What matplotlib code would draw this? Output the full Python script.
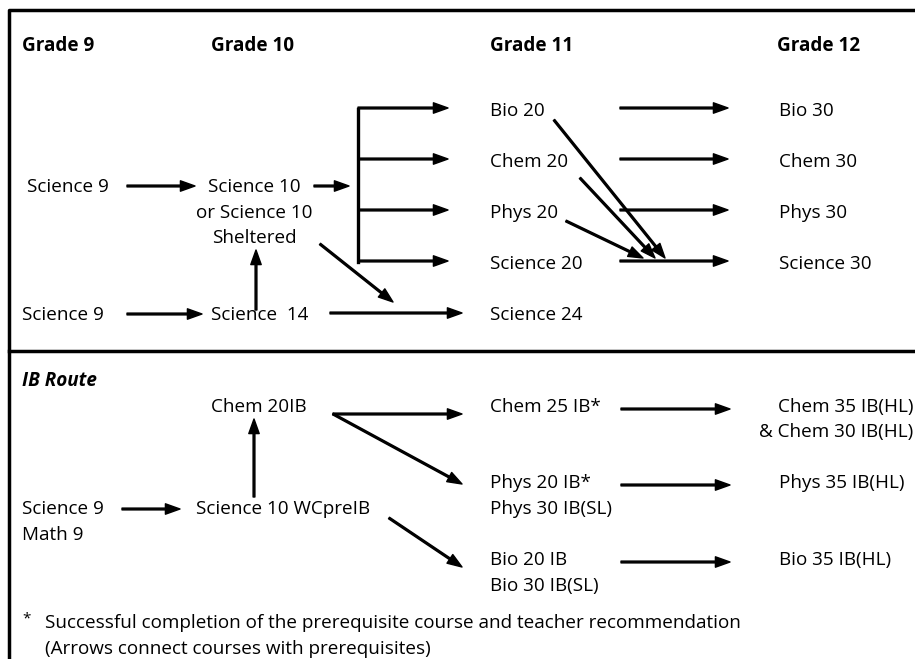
import matplotlib.pyplot as plt

plt.rcParams['font.family'] = ['Open Sans', 'DejaVu Sans']

# 見出し
grades = ['Grade 9', 'Grade 10', 'Grade 11', 'Grade 12']
grade_x = [22, 211, 490, 777]

# 通常ルート
grade11 = ['Bio 20', 'Chem 20', 'Phys 20', 'Science 20', 'Science 24']
grade12 = ['Bio 30', 'Chem 30', 'Phys 30', 'Science 30']
row_y = [110, 161, 212, 263, 314]

# IBルート
ib11 = [['Chem 25 IB*'], ['Phys 20 IB*', 'Phys 30 IB(SL)'], ['Bio 20 IB', 'Bio 30 IB(SL)']]
ib12 = [['Chem 35 IB(HL)', '& Chem 30 IB(HL)'], ['Phys 35 IB(HL)'], ['Bio 35 IB(HL)']]
ib_y = [406, 482, 559]

note = ['Successful completion of the prerequisite course and teacher recommendation',
        '(Arrows connect courses with prerequisites)']

fig = plt.figure(figsize=(9.15, 6.59), dpi=100)
ax = fig.add_axes([0, 0, 1, 1])
ax.set_xlim(0, 915)
ax.set_ylim(659, 0)
ax.axis('off')

FS = 13.6
LINE = 25.5


def txt(x, y, s, **kw):
    kw.setdefault('fontsize', FS)
    kw.setdefault('va', 'center')
    ax.text(x, y + 1, s, **kw)


def lines(x, y, items, **kw):
    for i, s in enumerate(items):
        txt(x, y + i * LINE, s, **kw)


def arrow(x0, y0, x1, y1):
    ax.annotate('', xy=(x1, y1), xytext=(x0, y0),
                arrowprops=dict(width=1.3, headwidth=7.5, headlength=10.5,
                                shrink=0, color='black'))


# 枠線
ax.plot([9, 9, 920], [665, 10, 10], color='black', lw=2.5, solid_capstyle='butt')
ax.plot([9, 920], [351, 351], color='black', lw=2.5)

for g, x in zip(grades, grade_x):
    txt(x, 45, g, fontweight='bold')

# Grade 9 / 10
txt(27, 186, 'Science 9')
lines(254, 186, ['Science 10', 'or Science 10', 'Sheltered'], ha='center')
txt(22, 314, 'Science 9')
txt(211, 314, 'Science  14')
arrow(127, 186, 195, 186)
arrow(314, 186, 349, 186)
arrow(127, 314, 202, 314)
arrow(256, 310, 256, 250)
arrow(320, 244, 393, 302)
arrow(330, 313, 462, 313)

# ブラケット
ax.plot([358, 358], [109, 262], color='black', lw=2.4)
for y in row_y[:4]:
    arrow(358, y - 2, 448, y - 2)

for s, y in zip(grade11, row_y):
    txt(490, y, s)
for s, y in zip(grade12, row_y):
    txt(779, y, s)
for y in row_y[:4]:
    arrow(620, y - 2, 728, y - 2)

# Science 30 への斜め矢印
arrow(554, 120, 665, 258)
arrow(580, 178, 655, 258)
arrow(566, 221, 643, 258)

# IBルート
txt(22, 380, 'IB Route', fontweight='bold', style='italic')
txt(211, 406, 'Chem 20IB')
lines(22, 508, ['Science 9', 'Math 9'])
txt(196, 508, 'Science 10 WCpreIB')
arrow(122, 509, 180, 509)
arrow(254, 497, 254, 419)
arrow(333, 414, 462, 414)
arrow(333, 414, 462, 484)
arrow(389, 518, 462, 567)

for items, y in zip(ib11, ib_y):
    lines(490, y, items)
lines(913, ib_y[0], ib12[0], ha='right')
txt(779, ib_y[1], ib12[1][0])
txt(779, ib_y[2], ib12[2][0])
for y in ib_y:
    arrow(621, y + 3, 730, y + 3)

txt(22, 618, '*', fontsize=11)
txt(45, 622, note[0])
txt(45, 648, note[1])

fig.savefig('out.png', dpi=100)
